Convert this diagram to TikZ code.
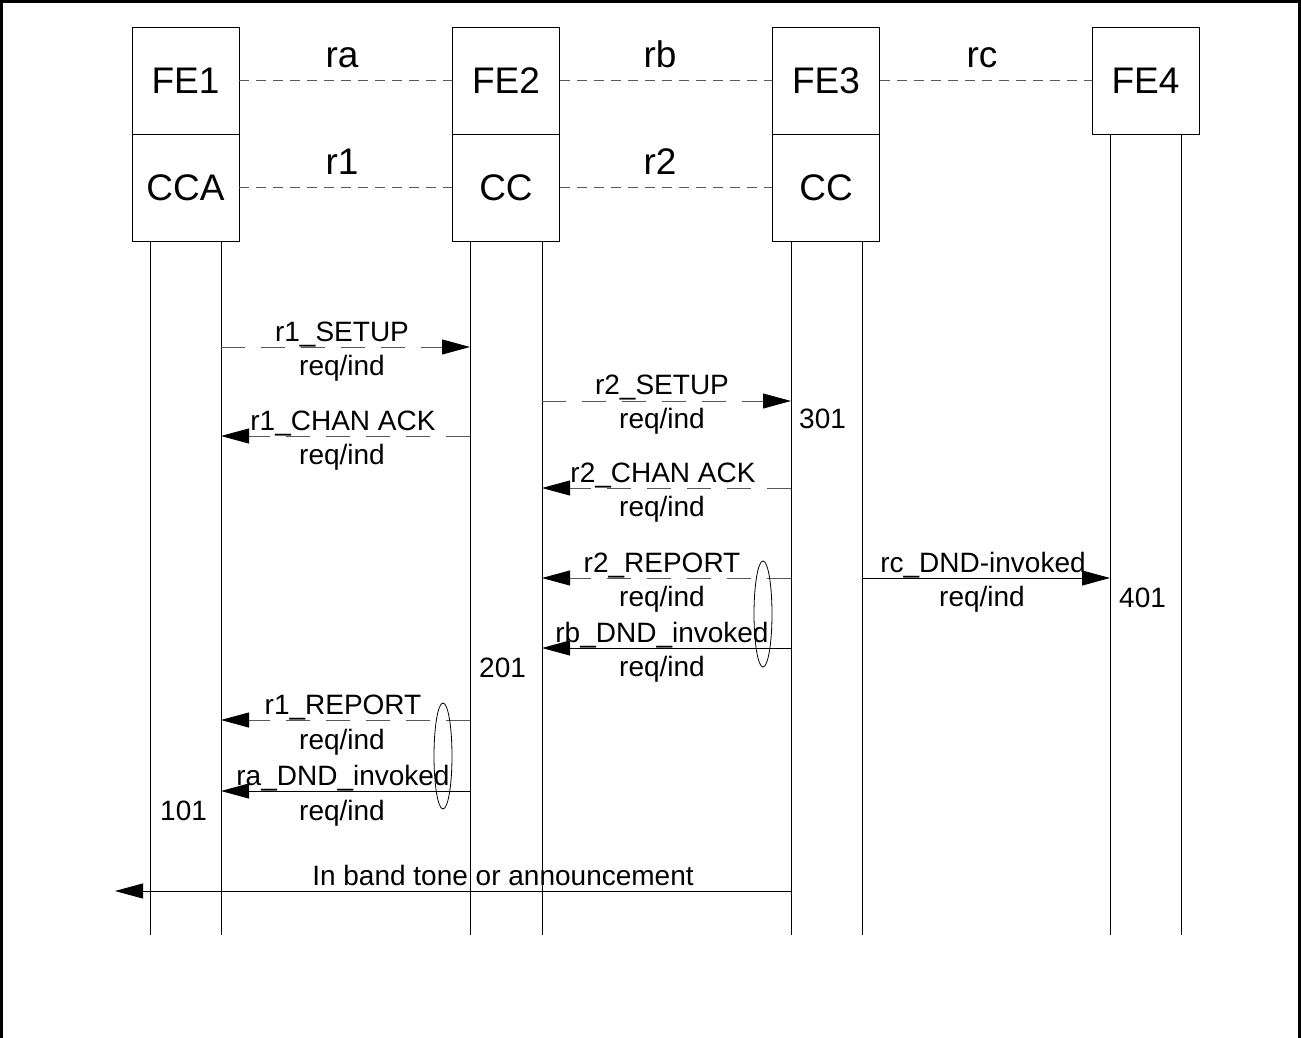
\documentclass[tikz,border=0pt]{standalone}
\usepackage{fontspec}
\setmainfont{Liberation Sans}
\usetikzlibrary{arrows.meta,shapes.geometric}
\begin{document}
\begin{tikzpicture}[x=1pt,y=-1pt,
  box/.style={draw, line width=0.8pt, minimum width=107pt, minimum height=107pt, inner sep=0pt, text depth=0pt, font=\fontsize{37}{42}\selectfont},
  lbl/.style={font=\fontsize{37}{42}\selectfont, inner sep=0pt, anchor=base},
  msg/.style={font=\fontsize{28}{32}\selectfont, inner sep=0pt, anchor=base},
  num/.style={font=\fontsize{28}{32}\selectfont, inner sep=0pt, anchor=base west},
  life/.style={line width=0.8pt},
  link/.style={line width=0.8pt, dash pattern=on 10pt off 7pt, draw=black!65},
  sig/.style={line width=0.8pt, -{Triangle[length=28pt,width=15pt,color=black]}},
  dsig/.style={sig, dash pattern=on 24pt off 16pt, draw=black!65},
  oval/.style={draw, ellipse, line width=0.8pt, minimum width=18pt, minimum height=106pt, inner sep=0pt}
]
\useasboundingbox (0,0) rectangle (1301,1038);
% frame
\draw[line width=3pt] (1.5,1040) -- (1.5,1.5) -- (1299.5,1.5) -- (1299.5,1040);

% boxes
\node[box] (fe1) at (185.5,80.5) {FE1};
\node[box] (cca) at (185.5,187.5) {CCA};
\node[box] (fe2) at (506,80.5) {FE2};
\node[box] (cc2) at (506,187.5) {CC};
\node[box] (fe3) at (826,80.5) {FE3};
\node[box] (cc3) at (826,187.5) {CC};
\node[box] (fe4) at (1145.5,80.5) {FE4};

% reference point links
\draw[link] (fe1.east) -- (fe2.west);
\draw[link] (fe2.east) -- (fe3.west);
\draw[link] (fe3.east) -- (fe4.west);
\draw[link] (cca.east) -- (cc2.west);
\draw[link] (cc2.east) -- (cc3.west);
\node[lbl] (ra) at (342,68) {ra};
\node[lbl] (rb) at (660,68) {rb};
\node[lbl] (rc) at (982,68) {rc};
\node[lbl] (r1) at (342,175) {r1};
\node[lbl] (r2) at (660,175) {r2};

% lifelines
\coordinate (l1a) at (150,935); \coordinate (l1b) at (221,935);
\coordinate (l2a) at (470,935); \coordinate (l2b) at (542,935);
\coordinate (l3a) at (791,935); \coordinate (l3b) at (862,935);
\coordinate (l4a) at (1110,935); \coordinate (l4b) at (1181,935);
\draw[life] (cca.south -| l1a) -- (l1a);
\draw[life] (cca.south -| l1b) -- (l1b);
\draw[life] (cc2.south -| l2a) -- (l2a);
\draw[life] (cc2.south -| l2b) -- (l2b);
\draw[life] (cc3.south -| l3a) -- (l3a);
\draw[life] (cc3.south -| l3b) -- (l3b);
\draw[life] (fe4.south -| l4a) -- (l4a);
\draw[life] (fe4.south -| l4b) -- (l4b);

% message end points
\coordinate (m1s) at (221,347); \coordinate (m1e) at (470,347);
\coordinate (m2s) at (470,436); \coordinate (m2e) at (221,436);
\coordinate (m3s) at (542,401); \coordinate (m3e) at (791,401);
\coordinate (m4s) at (791,488); \coordinate (m4e) at (542,488);
\coordinate (m5s) at (791,578); \coordinate (m5e) at (542,578);
\coordinate (m6s) at (791,648); \coordinate (m6e) at (542,648);
\coordinate (m7s) at (862,578); \coordinate (m7e) at (1110,578);
\coordinate (m8s) at (470,720); \coordinate (m8e) at (221,720);
\coordinate (m9s) at (470,791); \coordinate (m9e) at (221,791);
\coordinate (m10s) at (791,891); \coordinate (m10e) at (115,891);

% messages
\draw[dsig] (m1s) -- (m1e);
\node[msg] (t1) at (342,341) {r1\_SETUP};
\node[msg] (u1) at (342,375) {req/ind};

\draw[dsig] (m2s) -- (m2e);
\node[msg] (t2) at (343,430) {r1\_CHAN ACK};
\node[msg] (u2) at (342,464) {req/ind};

\draw[dsig] (m3s) -- (m3e);
\node[msg] (t3) at (662,394) {r2\_SETUP};
\node[msg] (u3) at (662,428) {req/ind};
\node[num] (n301) at (799,428) {301};

\draw[dsig] (m4s) -- (m4e);
\node[msg] (t4) at (663,482) {r2\_CHAN ACK};
\node[msg] (u4) at (662,516) {req/ind};

\draw[dsig] (m5s) -- (m5e);
\node[msg] (t5) at (662,572) {r2\_REPORT};
\node[msg] (u5) at (662,606) {req/ind};

\draw[sig] (m6s) -- (m6e);
\node[msg] (t6) at (662,642) {rb\_DND\_invoked};
\node[msg] (u6) at (662,676) {req/ind};
\node[num] (n201) at (479,677) {201};
\node[oval] (o1) at (763,614) {};

\draw[sig] (m7s) -- (m7e);
\node[msg] (t7) at (983,572) {rc\_DND-invoked};
\node[msg] (u7) at (982,606) {req/ind};
\node[num] (n401) at (1119,607) {401};

\draw[dsig] (m8s) -- (m8e);
\node[msg] (t8) at (343,714) {r1\_REPORT};
\node[msg] (u8) at (342,749) {req/ind};

\draw[sig] (m9s) -- (m9e);
\node[msg] (t9) at (343,785) {ra\_DND\_invoked};
\node[msg] (u9) at (342,820) {req/ind};
\node[num] (n101) at (160,820) {101};
\node[oval] (o2) at (443,756) {};

\draw[sig] (m10s) -- (m10e);
\node[msg] (t10) at (503,885) {In band tone or announcement};
\end{tikzpicture}
\end{document}
